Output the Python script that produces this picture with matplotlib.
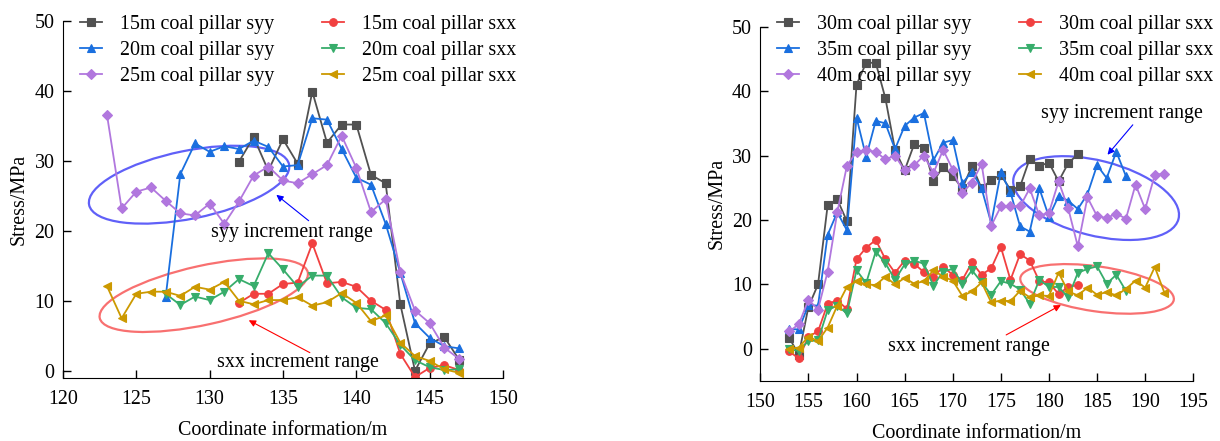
import numpy as np
import matplotlib
matplotlib.use('Agg')
import matplotlib.pyplot as plt
from matplotlib.patches import Ellipse
from matplotlib.transforms import ScaledTranslation

FS = 14.4
plt.rcParams['font.family'] = ['Liberation Serif', 'DejaVu Serif']
plt.rcParams['font.size'] = FS

# ---- left panel data (15m / 20m / 25m pillars) ----
x15 = list(range(132, 148))
syy15 = [29.9, 33.4, 28.6, 33.1, 29.6, 39.9, 32.6, 35.2, 35.2, 28.0, 26.8, 9.5, 0.0, 3.9, 4.8, 1.6]
sxx15 = [9.7, 11.0, 11.0, 12.4, 12.6, 18.2, 12.5, 12.7, 12.0, 10.0, 8.7, 2.4, -0.9, 0.4, 0.8, 0.1]

x20 = list(range(127, 148))
syy20 = [10.5, 28.1, 32.5, 31.3, 32.1, 31.7, 32.9, 32.0, 29.2, 29.4, 36.1, 35.9, 31.7, 27.6,
         26.6, 21.0, 14.0, 6.8, 4.7, 3.5, 3.2]
sxx20 = [11.0, 9.4, 10.6, 10.1, 11.3, 13.1, 12.1, 16.8, 14.5, 12.0, 13.6, 13.6, 10.5, 9.0,
         8.8, 6.8, 3.7, 1.5, 0.5, 0.1, 0.2]

x25 = list(range(123, 148))
syy25 = [36.6, 23.2, 25.6, 26.2, 24.3, 22.5, 22.2, 23.9, 21.0, 24.2, 27.9, 29.2, 27.2, 26.8,
         28.1, 29.4, 33.6, 29.0, 22.7, 24.5, 14.1, 8.6, 6.8, 3.3, 1.7]
sxx25 = [12.1, 7.5, 11.0, 11.3, 11.3, 10.7, 12.0, 11.6, 12.7, 10.0, 9.5, 10.1, 10.1, 10.5,
         9.3, 9.8, 11.1, 9.7, 7.1, 7.9, 4.0, 2.1, 1.4, 0.2, -0.3]

# ---- right panel data (30m / 35m / 40m pillars) ----
x30 = list(range(153, 184))
syy30 = [1.7, -0.9, 6.5, 10.0, 22.3, 23.2, 19.8, 41.0, 44.4, 44.4, 38.9, 30.9, 27.7, 31.8,
         31.2, 26.0, 28.3, 26.8, 24.9, 28.4, 24.9, 26.2, 27.0, 24.7, 25.2, 29.5, 28.4, 28.9,
         26.0, 28.8, 30.2]
sxx30 = [-0.4, -1.5, 1.9, 2.7, 7.0, 7.5, 6.2, 13.9, 15.7, 16.9, 13.9, 11.8, 13.7, 13.2,
         11.9, 11.2, 12.7, 11.5, 10.7, 13.4, 11.5, 12.5, 15.8, 10.7, 14.7, 13.7, 10.5, 10.3,
         8.5, 9.6, 9.9]

x35 = list(range(153, 189))
syy35 = [3.1, 3.0, 6.8, 6.7, 17.7, 21.2, 18.4, 35.9, 29.8, 35.4, 35.0, 31.0, 34.6, 35.9,
         36.6, 29.3, 32.0, 32.4, 25.7, 27.5, 24.9, 19.5, 27.4, 24.3, 19.0, 18.2, 24.9, 20.5,
         23.7, 23.0, 21.7, 24.0, 28.5, 26.5, 30.6, 26.8]
sxx35 = [-0.1, -0.3, 1.2, 1.3, 6.0, 6.7, 5.5, 12.2, 10.2, 15.1, 13.3, 10.7, 13.1, 13.7,
         13.2, 9.8, 12.0, 12.4, 10.1, 12.2, 10.3, 8.4, 10.5, 10.1, 9.2, 7.0, 10.7, 9.6,
         9.6, 8.0, 11.8, 12.4, 12.8, 10.1, 11.5, 9.0]

x40 = list(range(153, 193))
syy40 = [2.7, 3.8, 7.6, 6.1, 12.0, 21.2, 28.4, 30.6, 30.8, 30.6, 29.4, 30.0, 27.7, 28.5,
         30.0, 27.3, 30.9, 27.8, 24.2, 25.8, 28.7, 19.1, 22.1, 22.2, 22.1, 24.9, 20.7, 21.1,
         26.0, 21.8, 15.9, 23.5, 20.6, 20.3, 21.0, 20.2, 25.5, 21.7, 27.0, 27.2]
sxx40 = [0.0, 0.2, 1.9, 1.2, 3.3, 6.7, 9.6, 10.5, 10.0, 9.9, 11.2, 10.0, 11.0, 10.1,
         10.5, 12.2, 11.2, 10.6, 8.2, 8.9, 10.3, 7.2, 7.5, 7.4, 9.0, 8.0, 8.3, 8.2,
         11.8, 8.9, 8.3, 9.5, 8.4, 8.8, 8.3, 9.3, 10.6, 9.5, 12.7, 8.7]

C_BLACK, C_RED, C_BLUE = '#515151', '#F14040', '#1A6FDF'
C_GREEN, C_PURPLE, C_GOLD = '#37AD6B', '#B177DE', '#CC9900'


def draw_series(ax, xs, ys, color, marker, label, ms=5.5):
    ax.plot(xs, ys, color=color, marker=marker, ms=ms, lw=1.3, label=label,
            markeredgewidth=0.8)


def add_ellipse(fig, ax, center, w, h, angle, color):
    # size in pixels (dpi=100), centred on a data point
    tr = fig.dpi_scale_trans + ScaledTranslation(center[0], center[1], ax.transData)
    ax.add_patch(Ellipse((0, 0), w / 100., h / 100., angle=angle, transform=tr,
                         fill=False, ec=color, lw=1.6, clip_on=False))


def style_axes(ax, xlim, ylim, xticks, leg_y):
    ax.set_xlim(*xlim)
    ax.set_ylim(*ylim)
    ax.set_xticks(xticks)
    ax.set_yticks([0, 10, 20, 30, 40, 50])
    ax.spines['top'].set_visible(False)
    ax.spines['right'].set_visible(False)
    ax.tick_params(direction='in', length=6, width=1, labelsize=FS)
    ax.tick_params(axis='x', pad=8.5)
    ax.tick_params(axis='y', pad=6)
    ax.set_xlabel('Coordinate information/m', fontsize=FS, labelpad=9)
    ax.set_ylabel('Stress/MPa', fontsize=FS)
    ax.legend(ncol=2, loc='upper left', bbox_to_anchor=(0.02, leg_y), frameon=False,
              fontsize=FS, handlelength=1.1, handletextpad=0.9, columnspacing=2.4,
              labelspacing=0.35, borderaxespad=0)


fig = plt.figure(figsize=(12.2, 4.41), dpi=100)
ax1 = fig.add_axes([0.0516, 0.1435, 0.3607, 0.8088])
ax2 = fig.add_axes([0.6232, 0.136, 0.3549, 0.8034])

draw_series(ax1, x15, syy15, C_BLACK, 's', '15m coal pillar syy')
draw_series(ax1, x20, syy20, C_BLUE, '^', '20m coal pillar syy')
draw_series(ax1, x25, syy25, C_PURPLE, 'D', '25m coal pillar syy', ms=5)
draw_series(ax1, x15, sxx15, C_RED, 'o', '15m coal pillar sxx')
draw_series(ax1, x20, sxx20, C_GREEN, 'v', '20m coal pillar sxx')
draw_series(ax1, x25, sxx25, C_GOLD, '<', '25m coal pillar sxx')
style_axes(ax1, (120, 150), (-1, 50), range(120, 151, 5), 1.04)

draw_series(ax2, x30, syy30, C_BLACK, 's', '30m coal pillar syy')
draw_series(ax2, x35, syy35, C_BLUE, '^', '35m coal pillar syy')
draw_series(ax2, x40, syy40, C_PURPLE, 'D', '40m coal pillar syy', ms=5)
draw_series(ax2, x30, sxx30, C_RED, 'o', '30m coal pillar sxx')
draw_series(ax2, x35, sxx35, C_GREEN, 'v', '35m coal pillar sxx')
draw_series(ax2, x40, sxx40, C_GOLD, '<', '40m coal pillar sxx')
style_axes(ax2, (150, 195), (-5, 50), range(150, 196, 5), 1.056)

# increment-range ellipses and notes
add_ellipse(fig, ax1, (128.6, 26.6), 204, 68, 11.4, '#6060F8')
add_ellipse(fig, ax1, (129.6, 10.8), 213, 59, 12.4, '#F87070')
add_ellipse(fig, ax2, (184.9, 23.4), 170, 75, -14.2, '#6060F8')
add_ellipse(fig, ax2, (185.0, 9.3), 155, 45, -8.1, '#F87070')

arrow_b = dict(arrowstyle='-|>', color='blue', lw=0.8, mutation_scale=10)
arrow_r = dict(arrowstyle='-|>', color='red', lw=0.8, mutation_scale=10)
ax1.annotate('', xy=(134.4, 25.4), xytext=(136.9, 21.2), arrowprops=arrow_b)
ax1.text(135.6, 19.8, 'syy increment range', ha='center', va='center', fontsize=FS)
ax1.annotate('', xy=(132.5, 7.4), xytext=(137.0, 2.4), arrowprops=arrow_r)
ax1.text(136.0, 1.2, 'sxx increment range', ha='center', va='center', fontsize=FS)

ax2.annotate('', xy=(185.9, 29.8), xytext=(188.9, 35.1), arrowprops=arrow_b)
ax2.text(187.6, 36.6, 'syy increment range', ha='center', va='center', fontsize=FS)
ax2.annotate('', xy=(181.5, 7.0), xytext=(175.3, 1.95), arrowprops=arrow_r)
ax2.text(171.7, 0.4, 'sxx increment range', ha='center', va='center', fontsize=FS)

fig.savefig('out.png', dpi=100)
